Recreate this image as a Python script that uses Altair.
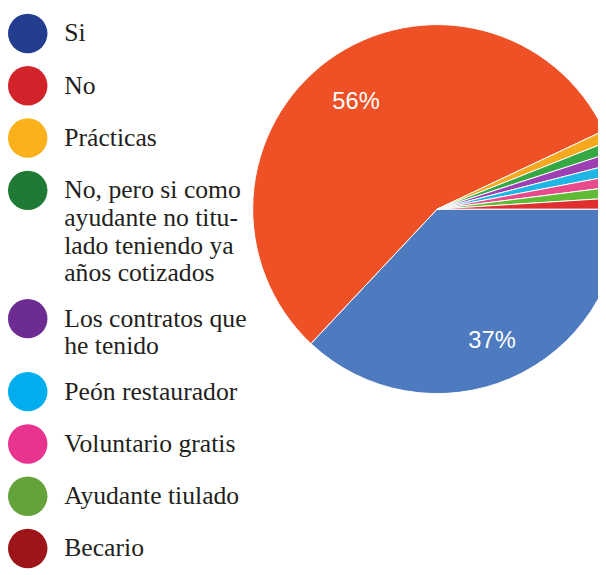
import altair as alt
import pandas as pd

categories = ["Si", "No", "Prácticas",
              "No, pero si como ayudante no titulado teniendo ya años cotizados",
              "Los contratos que he tenido", "Peón restaurador",
              "Voluntario gratis", "Ayudante tiulado", "Becario"]
values = [37, 56, 1, 1, 1, 1, 1, 1, 1]
pie_colors = ["#4e7bc0", "#ee5125", "#f6a81f", "#35a844", "#9b3fb3",
              "#1db6e5", "#e84a8c", "#5fba36", "#e02f2f"]
legend_colors = ["#243e8f", "#d2232a", "#fbb11b", "#1e7a34", "#6c2c91",
                 "#00aeef", "#e8338f", "#64a33a", "#9d1519"]
label_lines = {
    "No, pero si como ayudante no titulado teniendo ya años cotizados":
        ["No, pero si como", "ayudante no titu-", "lado teniendo ya", "años cotizados"],
    "Los contratos que he tenido": ["Los contratos que", "he tenido"],
}

df = pd.DataFrame({"cat": categories, "value": values, "order": list(range(len(categories)))})

expr = "datum.label"
for k, v in label_lines.items():
    arr = "[" + ",".join("'" + s + "'" for s in v) + "]"
    expr = f"datum.label == '{k}' ? {arr} : ({expr})"

cx, cy, R = 435, 200, 187
theta = alt.Theta("value:Q", stack=True,
                  scale=alt.Scale(range=[1.5707963, 1.5707963 + 6.2831853]))

base = alt.Chart(df).encode(theta=theta, order=alt.Order("order:Q"))

pie = base.mark_arc(outerRadius=R, stroke="white", strokeWidth=1).encode(
    x=alt.value(cx), y=alt.value(cy),
    color=alt.Color("cat:N", scale=alt.Scale(domain=categories, range=pie_colors), legend=None),
)

labels = base.transform_calculate(
    txt="datum.value >= 10 ? datum.value + '%' : ''"
).mark_text(radius=140, dy=5, font="Liberation Sans", fontSize=24, color="white").encode(
    x=alt.value(cx), y=alt.value(cy), text="txt:N"
)

legend_layer = alt.Chart(df).mark_point(filled=True, size=0, shape="circle").encode(
    x=alt.value(cx), y=alt.value(cy),
    fill=alt.Fill("cat:N", scale=alt.Scale(domain=categories, range=legend_colors),
                  legend=alt.Legend(
                      title=None, orient="none", legendX=0, legendY=2,
                      symbolType="circle", symbolSize=1600, symbolOpacity=1,
                      symbolStrokeWidth=0, labelFont="Liberation Serif",
                      labelFontSize=26, labelColor="#231f20", labelLimit=400,
                      labelOffset=17, rowPadding=13, padding=0, labelExpr=expr,
                  ))
)

chart = alt.layer(pie, labels, legend_layer).resolve_scale(
    color="independent", fill="independent"
).resolve_legend(color="independent", fill="independent").properties(
    width=598, height=567, padding=0,
    autosize=alt.AutoSizeParams(type="none"),
).configure(
    view=alt.ViewConfig(stroke=None),
    style={"guide-label": {"lineHeight": 28}},
)

chart.save("out.html", embed_options={"renderer": "svg", "actions": False})
